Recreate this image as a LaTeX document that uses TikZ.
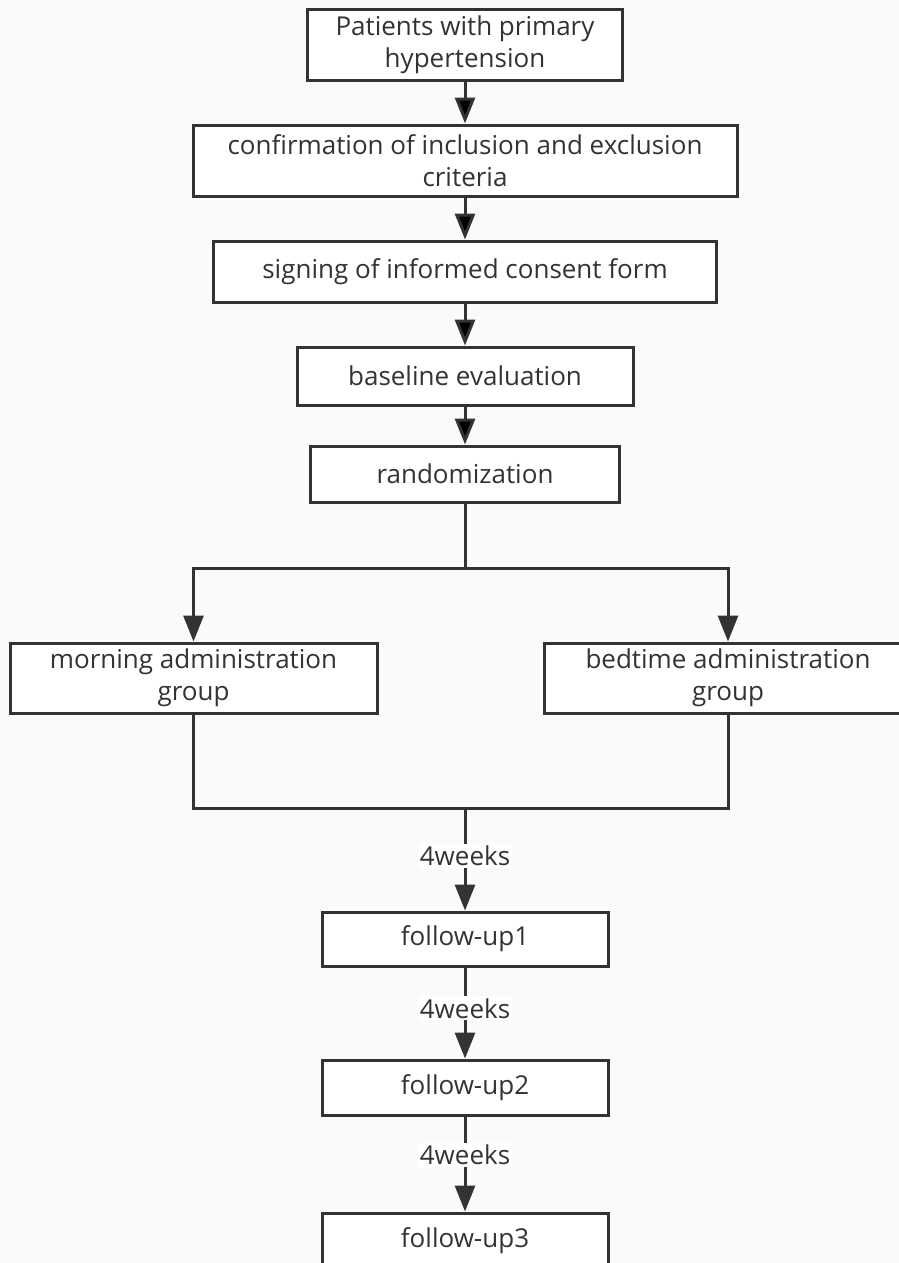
\documentclass[tikz,border=0pt]{standalone}
\usepackage{fontspec}
\setmainfont{Open Sans}
\usetikzlibrary{arrows.meta}
\definecolor{inkgray}{HTML}{333333}
\definecolor{paper}{HTML}{FAFAFA}

\begin{document}
\begin{tikzpicture}[x=1pt,y=-1pt,
  font=\fontsize{26}{32}\selectfont, text=inkgray,
  stage/.style={draw=inkgray,line width=3pt,fill=white,align=center,inner sep=0pt},
  flow/.style={draw=inkgray,line width=3pt,-{Triangle[length=26pt,width=20pt]}},
  link/.style={draw=inkgray,line width=3pt},
  gap/.style={fill=white,inner sep=2pt}]
  \fill[paper] (0,0) rectangle (899,1263);
  \useasboundingbox (0,0) rectangle (899,1263);
  % main column
  \node[stage,minimum width=315pt,minimum height=70pt] (pat) at (465,45) {Patients with primary\\hypertension};
  \node[stage,minimum width=544pt,minimum height=71pt] (crit) at (465,160.5) {confirmation of inclusion and exclusion\\criteria};
  \node[stage,minimum width=503pt,minimum height=61pt] (cons) at (465,271.5) {signing of informed consent form};
  \node[stage,minimum width=336pt,minimum height=58pt] (base) at (465,376) {baseline evaluation};
  \node[stage,minimum width=309pt,minimum height=56pt] (rand) at (465,474) {randomization};
  % the two groups
  \node[stage,minimum width=367pt,minimum height=70pt] (morn) at (193.5,678) {morning administration\\group};
  \node[stage,minimum width=368pt,minimum height=70pt] (bed) at (728,678) {bedtime administration\\group};
  % follow-ups
  \node[stage,minimum width=286pt,minimum height=54pt] (fu1) at (465,939) {follow-up1};
  \node[stage,minimum width=286pt,minimum height=55pt] (fu2) at (465,1087.5) {follow-up2};
  \node[stage,minimum width=286pt,minimum height=55pt] (fu3) at (465,1240.5) {follow-up3};
  \coordinate (split) at (465,568);
  \coordinate (join) at (465,808);

  \path[flow]
    (pat) edge (crit)
    (crit) edge (cons)
    (cons) edge (base)
    (base) edge (rand);
  \draw[link] (rand.south) -- (split);
  \draw[flow] (split) -| (morn.north);
  \draw[flow] (split) -| (bed.north);
  \draw[link] (morn.south) |- (bed.south |- join) -- (bed.south);
  \draw[flow] (join) -- node[gap,pos=0.47] (w1) {4weeks} (fu1.north);
  \draw[flow] (fu1.south) -- node[gap,pos=0.45] (w2) {4weeks} (fu2.north);
  \draw[flow] (fu2.south) -- node[gap,pos=0.40] (w3) {4weeks} (fu3.north);
\end{tikzpicture}
\end{document}
